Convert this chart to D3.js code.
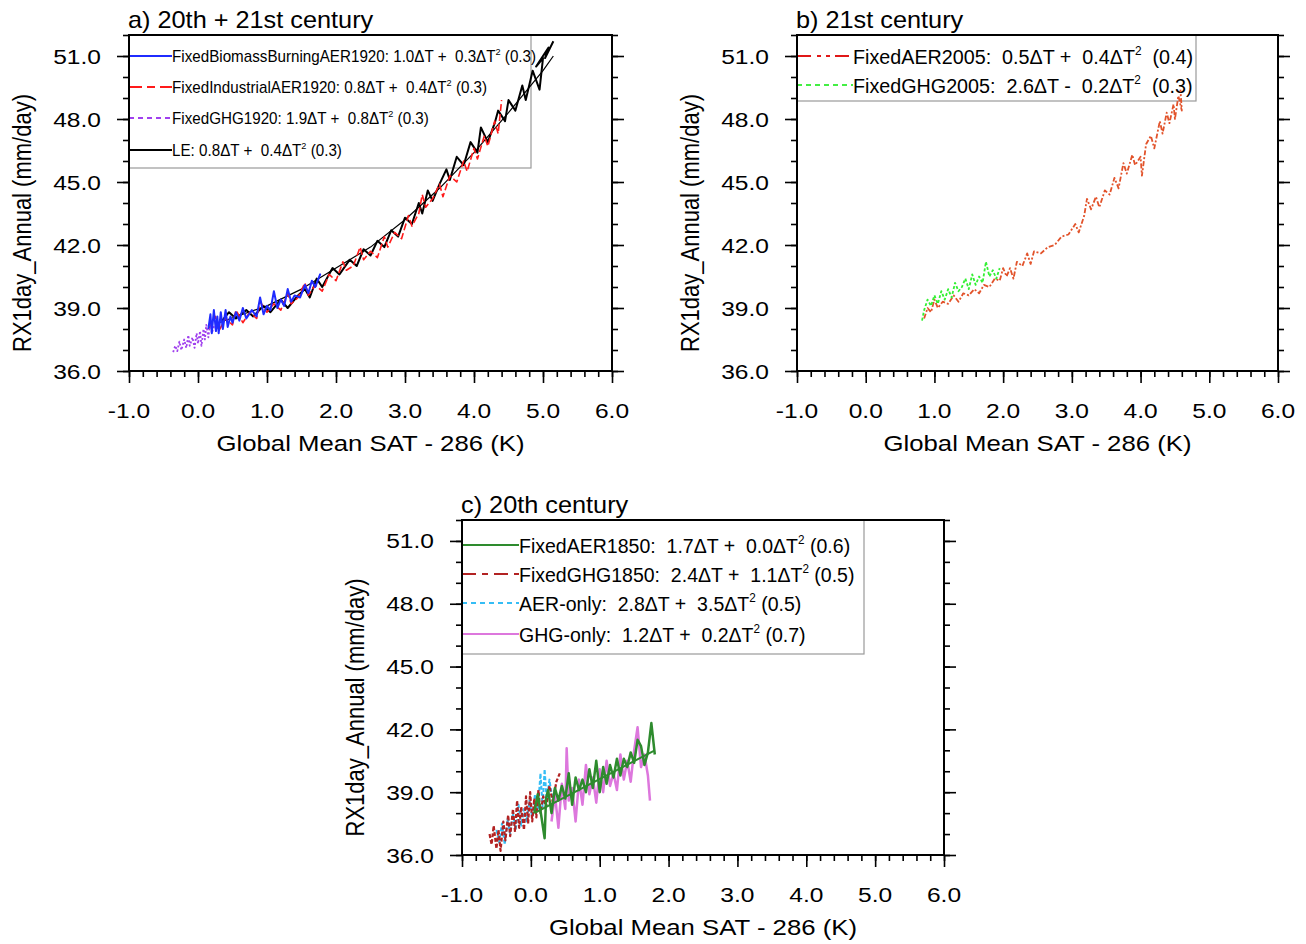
<!DOCTYPE html>
<html>
<head>
<meta charset="utf-8">
<script src="https://cdn.jsdelivr.net/npm/d3@7"></script>
<style>
  body { margin: 0; background: #fff; }
  text { font-family: "Liberation Sans", Arial, Helvetica, sans-serif; fill: #000; white-space: pre; }
</style>
</head>
<body>
<svg id="fig" width="1306" height="944"></svg>
<script>
// ---- data: [global mean SAT - 286 (K), RX1day (mm/day)] ----
var xTicks = [-1, 0, 1, 2, 3, 4, 5, 6];
var yTicks = [36, 39, 42, 45, 48, 51];

// a) 20th + 21st century
var aLE = [[0.35,38.4],[0.45,38.8],[0.55,38.5],[0.7,38.9],[0.8,38.6],[0.95,39.1],[1.05,38.8],[1.2,39.4],[1.3,39.0],
  [1.45,39.6],[1.55,39.9],[1.62,39.5],[1.72,40.4],[1.8,40.0],[1.95,40.9],[2.05,40.6],[2.2,41.3],[2.3,41.0],[2.4,41.8],
  [2.5,41.5],[2.6,42.2],[2.7,41.9],[2.8,42.7],[2.9,42.4],[3.0,43.3],[3.1,43.0],[3.2,44.0],[3.25,43.5],[3.33,44.6],
  [3.4,44.1],[3.5,44.9],[3.6,45.6],[3.65,45.1],[3.75,46.2],[3.85,45.8],[3.95,46.9],[4.05,46.4],[4.1,47.6],[4.2,46.9],
  [4.3,47.8],[4.35,48.4],[4.45,47.9],[4.5,48.9],[4.6,48.4],[4.7,49.6],[4.75,48.9],[4.85,50.3],[4.95,49.4],[5.0,50.9],
  [4.9,50.5],[5.08,51.4],[5.03,50.9],[5.15,51.7]];
var aLEfit = [[0.3,38.3],[1.0,39.1],[1.5,39.9],[2.0,40.9],[2.5,41.9],[3.0,43.2],[3.5,44.7],[4.0,46.4],[4.5,48.3],[5.0,50.3],[5.15,51.0]];
var aIndustrial = [[0.15,38.0],[0.25,38.6],[0.3,37.9],[0.4,38.5],[0.5,38.2],[0.55,38.9],[0.65,38.3],[0.75,38.8],[0.85,38.5],
  [0.9,39.3],[1.0,38.8],[1.1,39.2],[1.2,38.9],[1.3,39.7],[1.35,39.2],[1.45,39.5],[1.55,40.2],[1.6,39.6],[1.7,40.1],
  [1.8,39.8],[1.9,40.6],[2.0,40.3],[2.1,41.2],[2.15,40.8],[2.25,41.0],[2.35,41.9],[2.4,41.3],[2.5,41.7],[2.6,41.4],
  [2.7,42.4],[2.75,41.9],[2.85,42.6],[2.95,42.3],[3.05,43.4],[3.1,42.9],[3.2,43.5],[3.25,44.4],[3.3,43.8],[3.4,44.2],
  [3.5,44.9],[3.55,44.3],[3.65,45.3],[3.75,45.0],[3.85,46.0],[3.9,45.5],[4.0,46.6],[4.05,46.1],[4.15,47.2],[4.2,46.7],
  [4.3,47.9],[4.35,47.3],[4.4,48.9]];
var aGHG = [[-0.36,36.9],[-0.33,37.2],[-0.3,36.95],[-0.27,37.4],[-0.24,37.0],[-0.2,37.5],[-0.17,37.1],[-0.14,37.7],
  [-0.12,37.2],[-0.08,37.6],[-0.05,37.1],[-0.02,37.8],[0.0,37.3],[0.03,37.9],[0.05,37.2],[0.08,38.0],[0.1,37.5],
  [0.12,38.2],[0.15,37.6],[0.18,38.4],[0.2,37.8],[0.24,38.2]];
var aBiomass = [[0.15,38.0],[0.18,38.7],[0.2,37.8],[0.23,38.9],[0.26,37.9],[0.28,38.6],[0.3,37.8],[0.33,38.8],[0.36,38.0],
  [0.4,38.9],[0.43,38.1],[0.47,38.6],[0.5,38.3],[0.55,38.8],[0.6,38.4],[0.65,39.0],[0.7,38.5],[0.78,38.9],[0.85,38.6],
  [0.9,39.5],[0.95,38.7],[1.0,39.1],[1.05,38.9],[1.1,39.8],[1.15,39.0],[1.2,39.4],[1.25,39.1],[1.3,39.9],[1.35,39.3],
  [1.4,39.6],[1.48,39.5],[1.55,40.1],[1.6,39.7],[1.65,40.3],[1.7,40.0],[1.77,40.6],[1.72,40.2]];

// b) 21st century
var bAER = [[0.85,38.5],[0.9,39.0],[0.95,38.8],[1.0,39.4],[1.05,39.0],[1.12,39.3],[1.2,39.2],[1.28,39.6],[1.35,39.3],
  [1.42,39.7],[1.5,39.6],[1.58,39.9],[1.65,39.7],[1.72,40.1],[1.8,40.0],[1.88,40.4],[1.95,40.3],[2.0,40.9],[2.05,40.5],
  [2.1,40.9],[2.15,40.4],[2.2,41.2],[2.28,41.0],[2.35,41.6],[2.4,41.1],[2.45,41.7],[2.55,41.6],[2.65,41.9],[2.75,42.0],
  [2.85,42.4],[2.95,42.5],[3.05,43.0],[3.1,42.6],[3.18,43.4],[3.22,44.2],[3.28,43.7],[3.35,44.3],[3.4,43.8],[3.48,44.6],
  [3.55,44.4],[3.62,45.2],[3.68,44.7],[3.75,45.9],[3.8,45.4],[3.88,46.3],[3.92,45.8],[4.0,46.2],[4.02,45.3],[4.08,46.8],
  [4.15,47.2],[4.2,46.6],[4.28,47.9],[4.32,47.3],[4.38,48.3],[4.42,47.8],[4.48,48.7],[4.5,48.0],[4.55,49.1],[4.6,48.4],
  [4.58,49.4]];
var bGHG = [[0.82,38.4],[0.85,38.9],[0.9,39.4],[0.95,39.1],[1.0,39.6],[1.05,39.2],[1.1,39.8],[1.15,39.4],[1.2,39.9],
  [1.25,39.5],[1.3,40.2],[1.35,39.8],[1.4,40.0],[1.45,40.4],[1.5,39.9],[1.55,40.6],[1.6,40.1],[1.65,40.5],[1.7,40.2],
  [1.75,41.2],[1.8,40.5],[1.85,40.8],[1.9,40.4],[1.95,40.9]];

// c) 20th century
var cAERonly = [[-0.5,37.2],[-0.46,36.6],[-0.42,37.5],[-0.38,36.5],[-0.34,37.7],[-0.3,37.0],[-0.26,38.0],[-0.22,37.2],
  [-0.18,38.4],[-0.14,37.4],[-0.1,38.2],[-0.06,37.6],[-0.02,38.6],[0.02,37.8],[0.06,38.9],[0.1,38.1],[0.14,39.9],
  [0.17,38.3],[0.2,40.1],[0.23,38.6],[0.27,39.6],[0.31,38.7],[0.35,39.2]];
var cGHG = [[-0.6,37.0],[-0.57,36.5],[-0.54,37.4],[-0.5,36.3],[-0.47,37.2],[-0.44,36.2],[-0.4,37.6],[-0.37,36.7],
  [-0.33,37.9],[-0.3,36.9],[-0.26,38.2],[-0.23,37.1],[-0.2,38.6],[-0.17,37.3],[-0.14,38.3],[-0.1,37.2],[-0.07,38.8],
  [-0.04,37.5],[-0.01,39.0],[0.02,37.6],[0.05,38.7],[0.08,37.8],[0.11,39.1],[0.14,38.0],[0.18,38.8],[0.22,38.3],
  [0.27,39.3],[0.32,38.5],[0.37,39.5],[0.42,39.9]];
var cGHGonly = [[0.3,37.6],[0.35,38.9],[0.4,37.3],[0.45,39.4],[0.5,38.2],[0.52,41.1],[0.55,38.6],[0.6,39.2],[0.65,37.6],
  [0.7,39.6],[0.75,38.4],[0.8,40.3],[0.85,38.9],[0.9,39.7],[0.95,38.5],[1.0,40.1],[1.05,39.0],[1.1,40.5],[1.15,39.3],
  [1.2,39.9],[1.25,39.1],[1.3,40.8],[1.35,39.6],[1.4,40.5],[1.45,39.5],[1.5,41.0],[1.55,42.1],[1.6,40.2],[1.65,40.8],
  [1.7,39.8],[1.73,38.6]];
var cAER = [[0.05,38.0],[0.1,38.9],[0.15,37.9],[0.2,36.8],[0.22,38.7],[0.25,39.1],[0.3,38.0],[0.35,39.2],[0.4,38.6],
  [0.45,39.3],[0.5,38.7],[0.55,39.9],[0.6,38.4],[0.65,39.7],[0.7,39.1],[0.75,39.6],[0.8,39.0],[0.85,40.1],[0.9,39.2],
  [0.95,40.5],[1.0,39.0],[1.05,40.2],[1.1,39.4],[1.15,40.3],[1.2,39.7],[1.25,40.6],[1.3,39.8],[1.35,40.6],[1.4,40.2],
  [1.45,40.9],[1.5,40.4],[1.55,41.5],[1.6,41.2],[1.65,40.3],[1.7,40.9],[1.75,42.3],[1.8,40.8]];
var cAERfit = [[0.05,38.0],[1.8,41.0]];

// legend labels: text before the superscript 2, text after it
var aLabels = [["FixedBiomassBurningAER1920: 1.0\u0394T +  0.3\u0394T", " (0.3)"],
               ["FixedIndustrialAER1920: 0.8\u0394T +  0.4\u0394T", " (0.3)"],
               ["FixedGHG1920: 1.9\u0394T +  0.8\u0394T", " (0.3)"],
               ["LE: 0.8\u0394T +  0.4\u0394T", " (0.3)"]];
var bLabels = [["FixedAER2005:  0.5\u0394T +  0.4\u0394T", "  (0.4)"],
               ["FixedGHG2005:  2.6\u0394T -  0.2\u0394T", "  (0.3)"]];
var cLabels = [["FixedAER1850:  1.7\u0394T +  0.0\u0394T", " (0.6)"],
               ["FixedGHG1850:  2.4\u0394T +  1.1\u0394T", " (0.5)"],
               ["AER-only:  2.8\u0394T +  3.5\u0394T", " (0.5)"],
               ["GHG-only:  1.2\u0394T +  0.2\u0394T", " (0.7)"]];

var panels = [
  {
    title: 'a) 20th + 21st century',
    left: 129, right: 612, top: 35, bottom: 371,
    legend: {w: 402, h: 133, rows: [21, 52, 83, 115], lineW: 43, font: 16, sx: 0.95},
    // drawing order
    series: [
      {data: aLE, color: '#000', width: 2},
      {data: aLEfit, color: '#000', width: 1.2},
      {data: aIndustrial, color: '#ff1a1a', width: 1.6, dash: '7,3'},
      {data: aGHG, color: '#a040ee', width: 1.8, dash: '2,2'},
      {data: aBiomass, color: '#1f2bff', width: 2}
    ],
    keys: [
      {label: aLabels[0], color: '#1f2bff', dash: null},
      {label: aLabels[1], color: '#ff1a1a', dash: '13,5,8,5'},
      {label: aLabels[2], color: '#a040ee', dash: '5,4'},
      {label: aLabels[3], color: '#000', dash: null}
    ]
  },
  {
    title: 'b) 21st century',
    left: 797, right: 1278, top: 35, bottom: 371,
    legend: {w: 399, h: 66, rows: [21, 50], lineW: 56, font: 21, sx: 0.94},
    series: [
      {data: bAER, color: '#e2532b', width: 1.8, dash: '5,2,2,2'},
      {data: bGHG, color: '#33f033', width: 1.8, dash: '3,2'}
    ],
    keys: [
      {label: bLabels[0], color: '#e01818', dash: '14,6,4,5,4,5'},
      {label: bLabels[1], color: '#44ee44', dash: '5,4'}
    ]
  },
  {
    title: 'c) 20th century',
    left: 462, right: 944, top: 520, bottom: 855,
    legend: {w: 402, h: 134, rows: [25, 54, 83, 114], lineW: 57, font: 21, sx: 0.93},
    series: [
      {data: cAERonly, color: '#35bdf5', width: 2, dash: '4,2'},
      {data: cGHG, color: '#b22222', width: 2.2, dash: '4,2'},
      {data: cGHGonly, color: '#dd77dd', width: 2.5},
      {data: cAER, color: '#2e8b2e', width: 2.5},
      {data: cAERfit, color: '#2e8b2e', width: 2}
    ],
    keys: [
      {label: cLabels[0], color: '#2e8b2e', dash: null},
      {label: cLabels[1], color: '#b22222', dash: '14,6,6,6'},
      {label: cLabels[2], color: '#35bdf5', dash: '5,4'},
      {label: cLabels[3], color: '#dd77dd', dash: null}
    ]
  }
];

var svg = d3.select('#fig');
var fmt = d => d.toFixed(1);

// text that is stretched a little sideways, like the original figure
function label(sel, x, y, size, sx, anchor, rot) {
  return sel.append('text')
    .attr('transform', `translate(${x},${y}) scale(${sx},1)` + (rot ? ' rotate(-90)' : ''))
    .attr('font-size', size)
    .attr('text-anchor', anchor || 'start');
}

panels.forEach(function(p) {
  var x = d3.scaleLinear().domain([-1, 6]).range([p.left, p.right]);
  var y = d3.scaleLinear().domain([36, 52]).range([p.bottom, p.top]);
  var g = svg.append('g');

  // legend box + keys (under the data, as in the original)
  var lg = g.append('g').attr('transform', `translate(${p.left},${p.top})`);
  lg.append('rect')
    .attr('width', p.legend.w).attr('height', p.legend.h)
    .attr('fill', 'none').attr('stroke', '#9a9a9a').attr('stroke-width', 1.2);
  p.keys.forEach(function(k, i) {
    var ry = p.legend.rows[i];
    lg.append('line')
      .attr('x1', 0).attr('x2', p.legend.lineW).attr('y1', ry).attr('y2', ry)
      .attr('stroke', k.color).attr('stroke-width', 2)
      .attr('stroke-dasharray', k.dash);
    var fs = p.legend.font;
    var t = label(lg, p.legend.lineW, ry + fs * 0.36, fs, p.legend.sx);
    t.append('tspan').text(k.label[0]);
    t.append('tspan').attr('font-size', fs * 0.6).attr('dy', -fs * 0.42).text('2');
    t.append('tspan').attr('dy', fs * 0.42).text(k.label[1]);
  });

  // data
  var line = d3.line().x(d => x(d[0])).y(d => y(d[1]));
  g.selectAll('.series')
    .data(p.series)
    .enter().append('path')
      .attr('class', 'series')
      .attr('d', d => line(d.data))
      .attr('fill', 'none')
      .attr('stroke', d => d.color)
      .attr('stroke-width', d => d.width)
      .attr('stroke-linejoin', 'round')
      .attr('stroke-dasharray', d => d.dash || null);

  // ticks (outward on left, bottom, right)
  var xMinor = d3.range(-1, 6.001, 0.2);
  var yMinor = d3.range(36, 52.001, 1);
  var styleAxis = sel => {
    sel.select('.domain').remove();
    sel.selectAll('line').attr('stroke', '#000').attr('stroke-width', 1.6);
  };
  g.append('g').attr('transform', `translate(0,${p.bottom})`)
    .call(d3.axisBottom(x).tickValues(xMinor).tickSize(6).tickFormat(''))
    .call(styleAxis);
  g.append('g').attr('transform', `translate(0,${p.bottom})`)
    .call(d3.axisBottom(x).tickValues(xTicks).tickSize(12).tickFormat(''))
    .call(styleAxis);
  [[d3.axisLeft, p.left], [d3.axisRight, p.right]].forEach(function(a) {
    g.append('g').attr('transform', `translate(${a[1]},0)`)
      .call(a[0](y).tickValues(yMinor).tickSize(6).tickFormat(''))
      .call(styleAxis);
    g.append('g').attr('transform', `translate(${a[1]},0)`)
      .call(a[0](y).tickValues(yTicks).tickSize(12).tickFormat(''))
      .call(styleAxis);
  });

  // frame
  g.append('rect')
    .attr('x', p.left).attr('y', p.top)
    .attr('width', p.right - p.left).attr('height', p.bottom - p.top)
    .attr('fill', 'none').attr('stroke', '#000').attr('stroke-width', 2);

  // tick labels
  xTicks.forEach(function(v) {
    label(g, x(v), p.bottom + 47, 21, 1.17, 'middle').text(fmt(v));
  });
  yTicks.forEach(function(v) {
    label(g, p.left - 28, y(v) + 7.5, 21, 1.17, 'end').text(fmt(v));
  });

  // titles
  label(g, p.left - 1, p.top - 7, 23, 1.1).text(p.title);
  label(g, (p.left + p.right) / 2, p.bottom + 80, 22, 1.17, 'middle').text('Global Mean SAT - 286 (K)');
  label(g, p.left - 98, (p.top + p.bottom) / 2 + 20, 22, 1.17, 'middle', true).text('RX1day_Annual (mm/day)');
});
</script>
</body>
</html>
